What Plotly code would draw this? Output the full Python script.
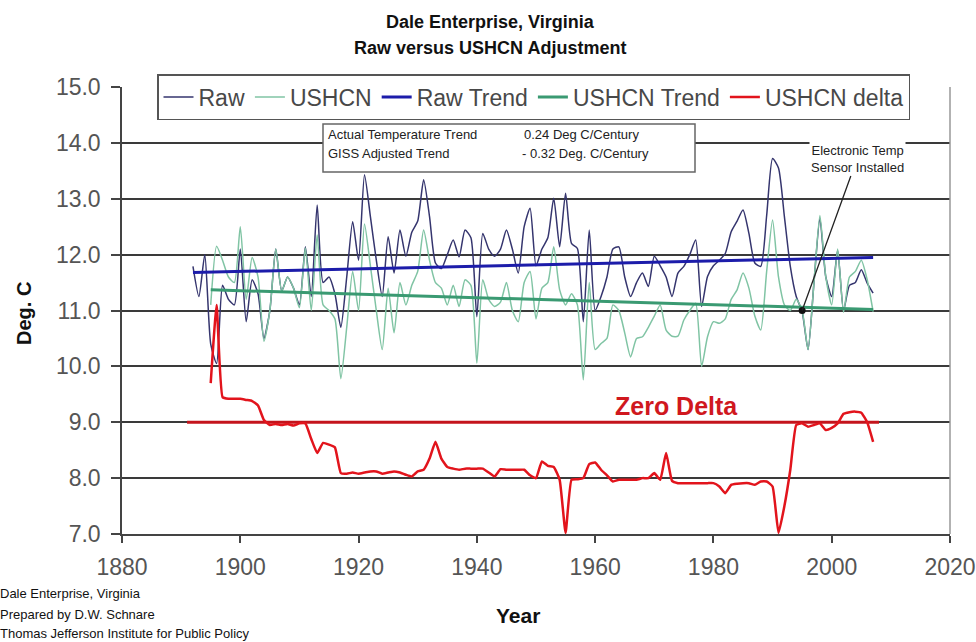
import plotly.graph_objects as go

# ---------------- data ----------------
raw_years = list(range(1892, 2008))
raw_vals = [
    11.79, 11.25, 12.0, 10.4, 10.05, 11.45, 11.2, 11.1,
    12.1, 10.8, 11.55, 11.3, 10.5, 11.0, 12.1, 11.35, 11.6, 11.4,
    11.1, 12.14, 11.25, 12.89, 11.5, 11.6, 11.3, 10.7, 11.6, 12.59,
    11.9, 13.43, 12.68, 11.9, 11.25, 12.32, 11.67, 12.44, 11.97, 12.4,
    12.6, 13.34, 12.68, 11.85, 11.75, 12.0, 12.26, 11.96, 12.44, 12.3,
    10.89, 12.38, 12.1, 11.97, 12.1, 12.44, 12.1, 11.67, 12.5, 12.83,
    11.8, 12.1, 12.3, 13.01, 12.14, 13.1, 12.2, 12.11, 10.8, 12.44,
    11.0, 11.25, 11.6, 12.1, 12.14, 11.6, 11.25, 11.5, 11.67, 11.43,
    11.97, 11.8, 11.6, 11.25, 11.67, 11.79, 12.0, 12.26, 11.07, 11.61,
    11.8, 11.9, 12.02, 12.41, 12.6, 12.8, 12.38, 11.85, 11.79, 12.7,
    13.72, 13.55, 12.68, 11.79, 11.25, 10.98, 10.3, 11.5, 12.65, 11.6,
    11.25, 12.08, 11.0, 11.45, 11.5, 11.73, 11.49, 11.31,
]

ushcn_years = list(range(1895, 2008))
ushcn_vals = [
    11.1, 12.15, 11.9, 11.6, 11.5,
    12.5, 11.2, 11.95, 11.6, 10.45, 11.0, 12.1, 11.35, 11.6, 11.4,
    11.05, 12.12, 11.0, 12.35, 11.1, 11.0, 10.85, 9.78, 10.7, 11.7,
    11.0, 12.55, 11.8, 11.0, 10.3, 11.4, 10.6, 11.5, 11.1, 11.45,
    11.7, 12.44, 11.9, 11.5, 11.4, 11.1, 11.45, 11.07, 11.55, 11.45,
    10.06, 11.55, 11.2, 11.07, 11.15, 11.5, 11.0, 10.8, 11.5, 11.7,
    10.85, 11.4, 11.5, 12.14, 11.37, 11.1, 11.3, 11.1, 9.76, 11.5,
    10.3, 10.41, 10.5, 11.1, 11.0, 10.6, 10.17, 10.5, 10.53, 10.7,
    10.9, 11.1, 10.65, 10.54, 10.54, 10.83, 11.0, 11.13, 10.0, 10.53,
    10.8, 10.77, 10.85, 11.2, 11.37, 11.67, 11.4, 10.9, 10.65, 11.7,
    12.62, 11.6, 11.1, 11.0, 11.2, 11.0, 10.3, 11.5, 12.7, 11.6,
    11.1, 12.1, 10.97, 11.6, 11.7, 11.9, 11.55, 10.98,
]

delta_years = list(range(1895, 2008))
delta_vals = [
    9.7, 11.1, 9.45, 9.42, 9.42,
    9.42, 9.4, 9.38, 9.3, 9.04, 8.95, 8.97, 8.95, 8.97, 8.94,
    8.98, 8.98, 8.7, 8.45, 8.63, 8.6, 8.55, 8.09, 8.08, 8.1,
    8.08, 8.1, 8.12, 8.12, 8.08, 8.1, 8.12, 8.1, 8.06, 8.03,
    8.12, 8.15, 8.35, 8.65, 8.35, 8.2, 8.17, 8.15, 8.17, 8.17,
    8.17, 8.17, 8.1, 8.03, 8.16, 8.15, 8.15, 8.15, 8.15, 8.05,
    8.0, 8.3, 8.22, 8.2, 7.97, 7.02, 7.97, 7.98, 8.0, 8.25,
    8.28, 8.15, 8.05, 7.94, 7.97, 7.97, 7.97, 7.97, 8.0, 8.0,
    8.09, 7.97, 8.45, 7.95, 7.91, 7.91, 7.91, 7.91, 7.91, 7.91,
    7.91, 7.85, 7.73, 7.88, 7.9, 7.91, 7.91, 7.88, 7.94, 7.94,
    7.85, 7.02, 7.5, 8.15, 8.95, 8.98, 8.92, 8.95, 8.98, 8.86,
    8.9, 8.98, 9.15, 9.18, 9.19, 9.17, 9.0, 8.65,
]

raw_trend_years = [1892, 2007]
raw_trend_vals = [11.68, 11.95]
ushcn_trend_years = [1895, 2007]
ushcn_trend_vals = [11.37, 11.02]

zero_delta_years = [1891, 2008]
zero_delta_vals = [9.0, 9.0]

sensor_year = [1995]
sensor_val = [11.0]

x_ticks = [1880, 1900, 1920, 1940, 1960, 1980, 2000, 2020]
y_ticks = [7, 8, 9, 10, 11, 12, 13, 14, 15]
y_tick_labels = ["7.0", "8.0", "9.0", "10.0", "11.0", "12.0", "13.0", "14.0", "15.0"]

title_lines = ["Dale Enterprise, Virginia", "Raw versus USHCN Adjustment"]
x_title = "Year"
y_title = "Deg. C"
footer_lines = ["Dale Enterprise, Virginia", "Prepared by D.W. Schnare",
                "Thomas Jefferson Institute for Public Policy"]
box_left = ["Actual Temperature Trend", "GISS Adjusted Trend"]
box_right = ["0.24 Deg C/Century", "- 0.32 Deg. C/Century"]

# ---------------- figure ----------------
FONT = "Liberation Sans, Arial, sans-serif"
W, H = 976, 642
L, R, T, B = 122, 26, 87, 108
PW, PH = W - L - R, H - T - B


def px(xp):
    return (xp - L) / PW


def py(yp):
    return (H - B - yp) / PH


fig = go.Figure()

fig.add_trace(go.Scatter(x=raw_years, y=raw_vals, name="Raw", mode="lines",
                         line=dict(color="#35356e", width=1.5, shape="spline", smoothing=0.6)))
fig.add_trace(go.Scatter(x=ushcn_years, y=ushcn_vals, name="USHCN", mode="lines",
                         line=dict(color="#80c4a4", width=1.5, shape="spline", smoothing=0.6)))
fig.add_trace(go.Scatter(x=raw_trend_years, y=raw_trend_vals, name="Raw Trend", mode="lines",
                         line=dict(color="#1c1caa", width=3)))
fig.add_trace(go.Scatter(x=ushcn_trend_years, y=ushcn_trend_vals, name="USHCN Trend", mode="lines",
                         line=dict(color="#3a9a72", width=3)))
fig.add_trace(go.Scatter(x=zero_delta_years, y=zero_delta_vals, mode="lines", showlegend=False,
                         line=dict(color="#c4141c", width=3), hoverinfo="skip"))
fig.add_trace(go.Scatter(x=delta_years, y=delta_vals, name="USHCN delta", mode="lines",
                         line=dict(color="#e2141c", width=2.5, shape="spline", smoothing=0.4)))
fig.add_trace(go.Scatter(x=sensor_year, y=sensor_val, mode="markers", showlegend=False,
                         marker=dict(color="#111111", size=7)))

fig.update_layout(
    width=W, height=H,
    margin=dict(l=L, r=R, t=T, b=B, autoexpand=False),
    paper_bgcolor="white", plot_bgcolor="white",
    font=dict(family=FONT, color="#000000"),
    showlegend=True,
    legend=dict(orientation="h", x=px(157), xanchor="left", y=py(74), yanchor="top",
                bgcolor="white", bordercolor="#555555", borderwidth=1.5,
                font=dict(size=23, color="#484848", family=FONT),
                itemwidth=30, tracegroupgap=0),
)

fig.update_xaxes(range=[1880, 2020], tickmode="array", tickvals=x_ticks,
                 ticks="outside", ticklen=7, tickcolor="#444", tickwidth=1.5,
                 showline=True, linecolor="#444", linewidth=1.5,
                 showgrid=False, zeroline=False, ticklabelstandoff=5,
                 tickfont=dict(size=23, color="#555555", family=FONT))
fig.update_yaxes(range=[7, 15], tickmode="array", tickvals=y_ticks, ticktext=y_tick_labels,
                 ticks="outside", ticklen=9, tickcolor="#444", tickwidth=1.5,
                 showline=True, linecolor="#444", linewidth=1.5,
                 showgrid=True, gridcolor="#3a3a3a", gridwidth=1.5, zeroline=False,
                 ticklabelstandoff=6,
                 tickfont=dict(size=23, color="#555555", family=FONT))

# titles as annotations
for i, t in enumerate(title_lines):
    fig.add_annotation(text="<b>" + t + "</b>", xref="paper", yref="paper",
                       x=px(490), y=py([22, 48][i]), xanchor="center", yanchor="middle",
                       showarrow=False, font=dict(size=18, color="#111111", family=FONT))
fig.add_annotation(text="<b>" + x_title + "</b>", xref="paper", yref="paper",
                   x=px(518), y=py(615), xanchor="center", yanchor="middle",
                   showarrow=False, font=dict(size=21, color="#111111", family=FONT))
fig.add_annotation(text="<b>" + y_title + "</b>", xref="paper", yref="paper",
                   x=px(24), y=py(314), xanchor="center", yanchor="middle", textangle=-90,
                   showarrow=False, font=dict(size=20, color="#111111", family=FONT))

# right border of plot area
fig.add_shape(type="line", xref="paper", yref="paper", x0=1, x1=1, y0=0, y1=1,
              line=dict(color="#999999", width=1.5))

# trend text box
fig.add_shape(type="rect", xref="paper", yref="paper", x0=px(323), x1=px(695), y0=py(172), y1=py(124),
              line=dict(color="#666666", width=1.5), fillcolor="white", layer="above")
for i, (l, r) in enumerate(zip(box_left, box_right)):
    yy = py([134, 153][i])
    fig.add_annotation(text=l, xref="paper", yref="paper", x=px(326), y=yy,
                       xanchor="left", yanchor="middle", showarrow=False,
                       font=dict(size=13, color="#222222", family=FONT))
    fig.add_annotation(text=r, xref="paper", yref="paper", x=px([522, 520][i]), y=yy,
                       xanchor="left", yanchor="middle", showarrow=False,
                       font=dict(size=13, color="#222222", family=FONT))

# sensor annotation
fig.add_annotation(text="Electronic Temp<br>Sensor Installed", x=sensor_year[0], y=sensor_val[0],
                   xref="x", yref="y", ax=55, ay=-152, showarrow=True, arrowhead=0,
                   arrowwidth=1.3, arrowcolor="#222222", standoff=0,
                   bgcolor="white", font=dict(size=13, color="#222222", family=FONT))

# Zero Delta label
fig.add_annotation(text="<b>Zero Delta</b>", x=1973.7, y=9.29, xref="x", yref="y",
                   showarrow=False, font=dict(size=25, color="#d0181e", family=FONT))

# footer
for i, t in enumerate(footer_lines):
    fig.add_annotation(text=t, xref="paper", yref="paper", x=px(-2), y=py([593, 614, 633][i]),
                       xanchor="left", yanchor="middle", showarrow=False,
                       font=dict(size=13, color="#111111", family=FONT))

fig.write_html("out.html", config={"displayModeBar": False},
               post_script="document.body.style.margin='0';")
